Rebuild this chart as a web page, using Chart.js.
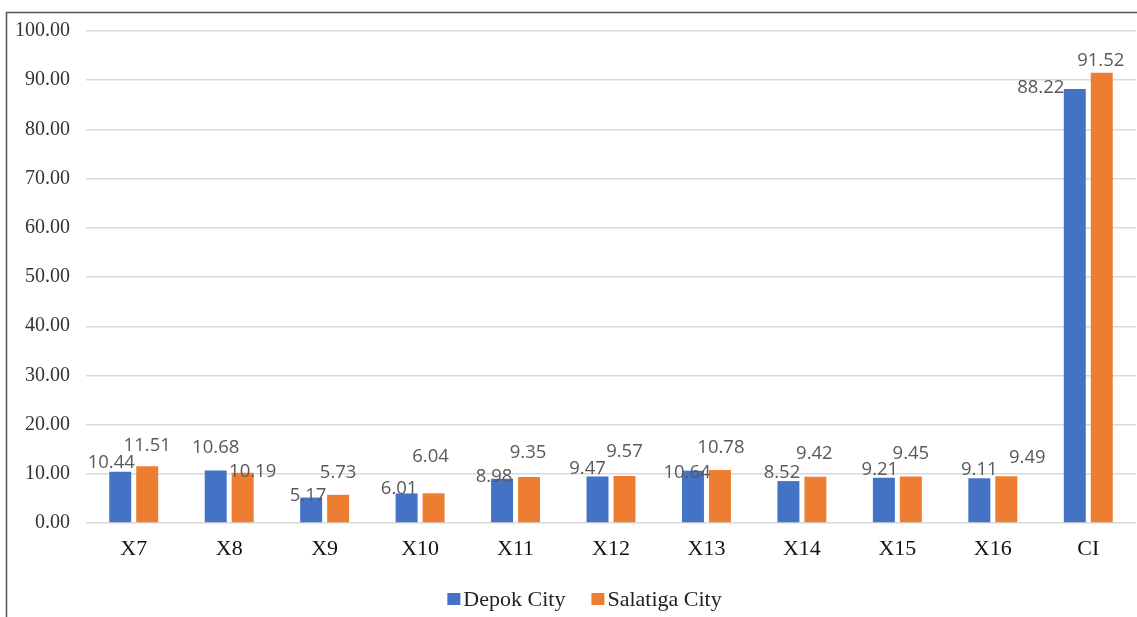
<!DOCTYPE html>
<html>
<head>
<meta charset="utf-8">
<script src="https://cdn.jsdelivr.net/npm/chart.js@4/dist/chart.umd.min.js"></script>
<style>
  html, body { margin: 0; padding: 0; background: #fff; }
  #wrap { position: relative; width: 1137px; height: 617px; }
</style>
</head>
<body>
<div id="wrap"><canvas id="c" width="1137" height="617"></canvas></div>
<script>
// Indicator categories and the scores for each city
const categories = ['X7', 'X8', 'X9', 'X10', 'X11', 'X12', 'X13', 'X14', 'X15', 'X16', 'CI'];
const depokCity = [10.44, 10.68, 5.17, 6.01, 8.98, 9.47, 10.64, 8.52, 9.21, 9.11, 88.22];
const salatigaCity = [11.51, 10.19, 5.73, 6.04, 9.35, 9.57, 10.78, 9.42, 9.45, 9.49, 91.52];
const seriesNames = ['Depok City', 'Salatiga City'];
const yTicks = [0, 10, 20, 30, 40, 50, 60, 70, 80, 90, 100];

const BLUE = '#4472C4';
const ORANGE = '#ED7D31';
const SERIF = '"Liberation Serif", "Times New Roman", serif';
const SANS = '"Open Sans", "Liberation Sans", sans-serif';

// Pixel nudges for each value label, relative to the top-centre of its bar
const labelNudges = [
  [[-9,-9],[0,-22.5],[-3,-1.5],[-7.5,-5],[-8,-2],[-10,-8],[-6,2],[-6.5,-8],[-4,-8],[0,-8],[-34,-1]],
  [[0,-21],[10,-1],[0,-22],[-3,-37],[-1,-24],[0,-24],[1,-22],[-1,-23],[0,-22.5],[21,-19],[-1,-12]]
];

// Outer frame (top and left edges)
const framePlugin = {
  id: 'frame',
  beforeDraw(chart) {
    const ctx = chart.ctx;
    ctx.save();
    ctx.fillStyle = '#fff';
    ctx.fillRect(0, 0, chart.width, chart.height);
    ctx.strokeStyle = '#555';
    ctx.lineWidth = 1.5;
    ctx.beginPath();
    ctx.moveTo(chart.width, 12.5);
    ctx.lineTo(6.5, 12.5);
    ctx.lineTo(6.5, chart.height);
    ctx.stroke();
    ctx.restore();
  }
};

// Value labels above the bars
const valueLabels = {
  id: 'valueLabels',
  afterDatasetsDraw(chart) {
    const ctx = chart.ctx;
    ctx.save();
    ctx.font = '18.5px ' + SANS;
    ctx.fillStyle = '#595959';
    ctx.textAlign = 'center';
    ctx.textBaseline = 'middle';
    chart.data.datasets.forEach((ds, di) => {
      const meta = chart.getDatasetMeta(di);
      meta.data.forEach((bar, i) => {
        const n = labelNudges[di][i] || [0, -12];
        ctx.fillText(ds.data[i].toFixed(2), bar.x + n[0], bar.y + n[1]);
      });
    });
    ctx.restore();
  }
};

// Legend drawn with small square swatches close to the text
const bottomLegend = {
  id: 'bottomLegend',
  afterDraw(chart) {
    const ctx = chart.ctx;
    ctx.save();
    ctx.font = '22px ' + SERIF;
    ctx.textBaseline = 'middle';
    const box = 13, boxGap = 3, itemGap = 26;
    const items = chart.data.datasets.map(d => ({ label: d.label, color: d.backgroundColor, w: ctx.measureText(d.label).width }));
    const total = items.reduce((s, it) => s + box + boxGap + it.w, 0) + itemGap * (items.length - 1);
    let x = chart.width / 2 + 16 - total / 2;
    const y = 599;
    items.forEach(it => {
      ctx.fillStyle = it.color;
      ctx.fillRect(x, y - 6, box, 12);
      x += box + boxGap;
      ctx.fillStyle = '#222';
      ctx.fillText(it.label, x, y + 1);
      x += it.w + itemGap;
    });
    ctx.restore();
  }
};

new Chart(document.getElementById('c'), {
  type: 'bar',
  data: {
    labels: categories,
    datasets: [
      { label: seriesNames[0], data: depokCity, backgroundColor: BLUE },
      { label: seriesNames[1], data: salatigaCity, backgroundColor: ORANGE }
    ]
  },
  options: {
    responsive: false,
    animation: false,
    devicePixelRatio: 1,
    categoryPercentage: 0.565,
    barPercentage: 0.815,
    layout: { padding: { top: 31, right: 1, left: 0, bottom: 0 } },
    plugins: {
      legend: { display: false },
      tooltip: { enabled: false }
    },
    scales: {
      x: {
        grid: { display: false, drawTicks: false },
        border: { display: false },
        ticks: { font: { family: SERIF, size: 22 }, color: '#111', padding: 13 },
        afterFit(s) { s.height = 94; }
      },
      y: {
        min: 0,
        max: 100,
        afterBuildTicks(s) { s.ticks = yTicks.map(v => ({ value: v })); },
        grid: { color: '#d9d9d9', lineWidth: 1.4, drawTicks: false },
        border: { display: false },
        ticks: {
          font: { family: SERIF, size: 20 },
          color: '#333',
          padding: 16,
          callback: v => Number(v).toFixed(2)
        },
        afterFit(s) { s.width = 86; }
      }
    }
  },
  plugins: [framePlugin, valueLabels, bottomLegend]
});
</script>
</body>
</html>
